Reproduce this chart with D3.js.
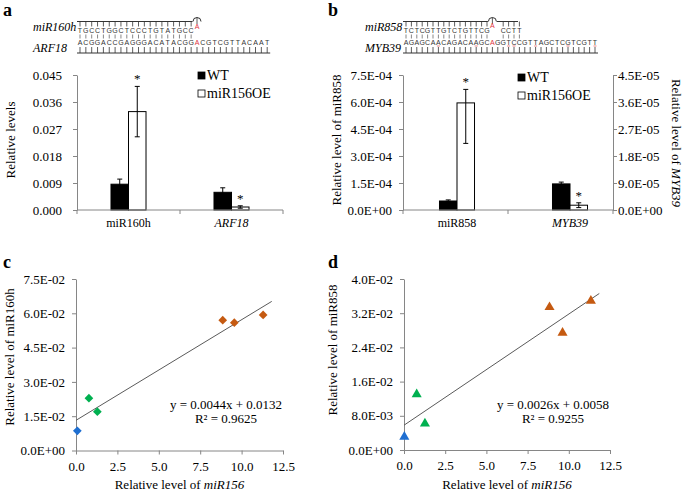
<!DOCTYPE html>
<head>
  <meta charset="utf-8">
  <script src="https://d3js.org/d3.v7.min.js"></script>
  <style>
    body { margin: 0; background: #fff; }
    svg text { font-family: 'Liberation Serif', 'Times New Roman', Times, serif; }
    svg text.seq { font-family: 'Liberation Sans', Arial, sans-serif; }
  </style>
</head>

<body>
  <svg width="685" height="494"></svg>

  <script>
    /*****************************************************
    ** data
    ******************************************************/
    const seriesNames = ['WT', 'miR156OE'];

    // panel a
    const catsA = ['miR160h', 'ARF18'];
    const italicA = [false, true];
    const wtA = [0.0086, 0.0059];
    const wtErrA = [0.0017, 0.0015];
    const oeA = [0.0328, 0.0010];
    const oeErrUpA = [0.0084, 0.0004];
    const oeErrDownA = [0.0084, 0.0004];
    const starsA = [false, true, false, true]; // wt, oe per category
    const ticksA = [0, 0.009, 0.018, 0.027, 0.036, 0.045];

    // panel b (miR858 on left axis, MYB39 on right axis)
    const catsB = ['miR858', 'MYB39'];
    const italicB = [false, true];
    const wtB = [5.0e-5, 8.7e-6];
    const wtErrB = [0.6e-5, 0.6e-6];
    const oeB = [5.95e-4, 1.6e-6];
    const oeErrUpB = [0.75e-4, 0.8e-6];
    const oeErrDownB = [2.25e-4, 0.8e-6];
    const ticksBLeft = [0, 1.5e-4, 3.0e-4, 4.5e-4, 6.0e-4, 7.5e-4];
    const ticksBRight = [0, 9e-6, 1.8e-5, 2.7e-5, 3.6e-5, 4.5e-5];
    const labelsBRight = ['0.0E+00', '9.0E-05', '1.8E-05', '2.7E-05', '3.6E-05', '4.5E-05'];

    // panel c
    const xC = [0.08, 0.78, 1.29, 8.86, 9.56, 11.30];
    const yC = [0.0086, 0.0229, 0.0170, 0.0570, 0.0559, 0.0593];
    const trendC = [0.0044, 0.0132];
    const trendEndC = 11.82;
    const ticksCy = [0, 0.015, 0.03, 0.045, 0.06, 0.075];

    // panel d
    const xD = [0.02, 0.77, 1.27, 8.83, 9.62, 11.34];
    const yD = [0.0031, 0.0130, 0.0062, 0.0334, 0.0274, 0.0349];
    const trendD = [0.0026, 0.0058];
    const trendEndD = 11.85;
    const ticksDy = [0, 0.008, 0.016, 0.024, 0.032, 0.04];

    const groups = ['ctrl', 'low', 'low', 'high', 'high', 'high'];
    const ticksX = [0, 2.5, 5, 7.5, 10, 12.5];

    // sequences
    const seqA1 = 'TGCCTGGCTCCCTGTATGCC';
    const seqA2 = 'ACGGACCGAGGGACATACGGACGTCGTTACAAT';
    const redA2 = [20];
    const seqB1 = 'TCTCGTTGTCTGTTCG  CCTT';
    const seqB2 = 'AGAGCAACAGACAAGCAGGTCCGTTAGCTCGTCGTT';
    const redB2 = [16];
    const dashB = [6, 13, 19, 20, 24, 30, 35];

    /*****************************************************
    ** helpers
    ******************************************************/
    const svg = d3.select('svg');
    const axisGrey = '#868686';
    const groupColor = d3.scaleOrdinal()
      .domain(['ctrl', 'low', 'high'])
      .range(['#1f6fd1', '#00b050', '#c55a11']);

    function sci(v) {
      if (Math.abs(v) < 1e-15) return '0.0E+00';
      let e = Math.floor(Math.log10(Math.abs(v)) + 1e-9);
      let m = v / Math.pow(10, e);
      if (Math.round(m * 10) / 10 >= 10) { m /= 10; e++; }
      return m.toFixed(1) + 'E' + (e < 0 ? '-' : '+') + String(Math.abs(e)).padStart(2, '0');
    }

    function styleAxis(g) {
      g.attr('font-family', null);
      g.select('.domain').attr('stroke', axisGrey);
      g.selectAll('.tick line').attr('stroke', axisGrey);
      g.selectAll('.tick text')
        .attr('fill', '#000')
        .style('font-size', '13px');
    }

    function letter(t, x, y) {
      svg.append('text').attr('x', x).attr('y', y)
        .style('font-size', '18px').style('font-weight', 'bold').text(t);
    }

    function vtitle(parts, x, y, rot) {
      const t = svg.append('text')
        .attr('transform', `translate(${x},${y}) rotate(${rot})`)
        .attr('text-anchor', 'middle')
        .attr('dominant-baseline', 'central')
        .style('font-size', '13px');
      parts.forEach(p => t.append('tspan').style('font-style', p[1] ? 'italic' : 'normal').text(p[0]));
    }

    /*****************************************************
    ** sequence pairing sketches
    ******************************************************/
    function seqSketch(o) {
      const g = svg.append('g');
      const sx = d3.scaleLinear().domain([0, 1]).range([o.x0, o.x0 + o.step]);

      g.append('text').attr('x', o.lx).attr('y', 31).style('font-style', 'italic').style('font-size', '12px').text(o.top);
      g.append('text').attr('x', o.lx).attr('y', 52).style('font-style', 'italic').style('font-size', '12px').text(o.bottom);

      // top backbone
      g.append('line').attr('x1', o.x0 - 3).attr('x2', o.topEnd).attr('y1', 21.5).attr('y2', 21.5)
        .attr('stroke', '#333').attr('stroke-width', 1);
      o.s1.split('').forEach((c, i) => {
        if (c === ' ') return;
        g.append('line').attr('x1', sx(i)).attr('x2', sx(i)).attr('y1', 21.5).attr('y2', 26.5).attr('stroke', '#333').attr('stroke-width', 0.8);
        g.append('text').attr('class', 'seq').attr('x', sx(i)).attr('y', 32.5).attr('text-anchor', 'middle').style('font-size', '7px').attr('fill', '#333').text(c);
        g.append('line').attr('x1', sx(i)).attr('x2', sx(i)).attr('y1', 34.5).attr('y2', 38.5).attr('stroke', '#555').attr('stroke-width', 0.7);
      });
      // bulge
      const bx = sx(o.bulge);
      g.append('rect').attr('x', bx - 4.5).attr('y', 19).attr('width', 9).attr('height', 5).attr('fill', '#fff');
      g.append('path').attr('d', `M${bx - 4},21.5 A4,4 0 0 1 ${bx + 4},21.5`).attr('fill', 'none').attr('stroke', '#333');
      g.append('line').attr('x1', bx).attr('x2', bx).attr('y1', 17.5).attr('y2', 24).attr('stroke', '#333').attr('stroke-width', 0.8);
      g.append('text').attr('class', 'seq').attr('x', bx).attr('y', o.bulgeY).attr('text-anchor', 'middle').style('font-size', '7px').attr('fill', '#e0323c').text('A');

      // bottom strand
      const n2 = o.s2.length;
      g.append('line').attr('x1', o.x0 - 3).attr('x2', sx(n2 - 1) + 3).attr('y1', 53).attr('y2', 53).attr('stroke', '#333');
      o.s2.split('').forEach((c, i) => {
        g.append('text').attr('class', 'seq').attr('x', sx(i)).attr('y', 44.5).attr('text-anchor', 'middle').style('font-size', '7px')
          .attr('fill', o.red.includes(i) ? '#e0323c' : '#333').text(c);
        g.append('line').attr('x1', sx(i)).attr('x2', sx(i)).attr('y1', 47).attr('y2', 53).attr('stroke', '#333').attr('stroke-width', 0.8);
      });
      (o.dash || []).forEach(i => {
        g.append('line').attr('x1', sx(i) - 1.5).attr('x2', sx(i) + 1.5).attr('y1', 46).attr('y2', 46).attr('stroke', '#e88').attr('stroke-width', 1);
      });
    }

    seqSketch({ lx: 33, top: 'miR160h', bottom: 'ARF18', x0: 80, step: 5.85, s1: seqA1, s2: seqA2,
      red: redA2, bulge: 20, bulgeY: 28.5, topEnd: 195 });
    seqSketch({ lx: 365, top: 'miR858', bottom: 'MYB39', x0: 406, step: 5.4, s1: seqB1, s2: seqB2,
      red: redB2, bulge: 16, bulgeY: 28, topEnd: 518, dash: dashB });

    /*****************************************************
    ** bar panels
    ******************************************************/
    function barPanel(o) {
      const g = svg.append('g');
      const x0 = d3.scaleBand().domain(o.cats).range(o.br || o.xr).paddingInner(o.pad).paddingOuter(o.pad / 2);
      const x1 = d3.scaleBand().domain(seriesNames).range([0, x0.bandwidth()]);
      const base = o.yFor(0)(0);

      const rows = [];
      o.cats.forEach((c, i) => {
        rows.push({ c, i, s: 'WT', v: o.wt[i], up: o.wtErr[i], dn: o.wtErr[i], star: o.stars[i * 2] });
        rows.push({ c, i, s: 'miR156OE', v: o.oe[i], up: o.oeUp[i], dn: o.oeDown[i], star: o.stars[i * 2 + 1] });
      });

      g.selectAll('rect.bar').data(rows).enter().append('rect')
        .attr('x', d => x0(d.c) + x1(d.s))
        .attr('width', x1.bandwidth())
        .attr('y', d => o.yFor(d.i)(d.v))
        .attr('height', d => base - o.yFor(d.i)(d.v))
        .attr('fill', d => d.s === 'WT' ? '#000' : '#fff')
        .attr('stroke', '#000').attr('stroke-width', 1);

      const eb = g.selectAll('g.err').data(rows).enter().append('g')
        .attr('transform', d => `translate(${x0(d.c) + x1(d.s) + x1.bandwidth() / 2},0)`);
      eb.append('line').attr('y1', d => o.yFor(d.i)(d.v + d.up)).attr('y2', d => o.yFor(d.i)(d.v - d.dn)).attr('stroke', '#000');
      eb.append('line').attr('x1', -2.5).attr('x2', 2.5).attr('y1', d => o.yFor(d.i)(d.v + d.up)).attr('y2', d => o.yFor(d.i)(d.v + d.up)).attr('stroke', '#000');
      eb.append('line').attr('x1', -2.5).attr('x2', 2.5).attr('y1', d => o.yFor(d.i)(d.v - d.dn)).attr('y2', d => o.yFor(d.i)(d.v - d.dn)).attr('stroke', '#000');
      eb.filter(d => d.star).append('text')
        .attr('y', d => o.yFor(d.i)(d.v + d.up) - 3)
        .attr('text-anchor', 'middle').style('font-size', '13px').text('*');

      // category axis
      g.append('line').attr('x1', o.xr[0]).attr('x2', o.xr[1]).attr('y1', base).attr('y2', base).attr('stroke', axisGrey);
      const step = (o.xr[1] - o.xr[0]) / o.cats.length;
      d3.range(o.cats.length + 1).forEach(k => {
        const xx = o.xr[0] + k * step;
        g.append('line').attr('x1', xx).attr('x2', xx).attr('y1', base).attr('y2', base + 4).attr('stroke', axisGrey);
      });
      g.selectAll('text.cat').data(o.cats).enter().append('text')
        .attr('x', d => x0(d) + x0.bandwidth() / 2).attr('y', base + 17)
        .attr('text-anchor', 'middle').style('font-size', '12px')
        .style('font-style', (d, i) => o.italic[i] ? 'italic' : 'normal')
        .text(d => d);

      // legend
      seriesNames.forEach((s, k) => {
        g.append('rect').attr('x', o.lg[0]).attr('y', o.lg[1] + k * 18).attr('width', 7).attr('height', 7)
          .attr('fill', k === 0 ? '#000' : '#fff').attr('stroke', '#000').attr('stroke-width', 0.8);
        g.append('text').attr('x', o.lg[0] + 9).attr('y', o.lg[1] + 7.5 + k * 18).style('font-size', '14px').text(s);
      });
      return g;
    }

    const yA = d3.scaleLinear().domain([0, 0.045]).range([210, 75]);
    const gA = barPanel({ cats: catsA, italic: italicA, xr: [77, 283], pad: 0.66, yFor: () => yA,
      wt: wtA, wtErr: wtErrA, oe: oeA, oeUp: oeErrUpA, oeDown: oeErrDownA, stars: starsA, lg: [198, 72] });
    gA.append('g').attr('transform', 'translate(77,0)')
      .call(d3.axisLeft(yA).tickValues(ticksA).tickSize(4).tickSizeOuter(0).tickPadding(11).tickFormat(d3.format('.3f')))
      .call(styleAxis);

    const yBL = d3.scaleLinear().domain([0, 7.5e-4]).range([210, 75]);
    const yBR = d3.scaleLinear().domain([0, 4.5e-5]).range([210, 75]);
    const gB = barPanel({ cats: catsB, italic: italicB, xr: [403, 613], br: [400.5, 626.5], pad: 0.69,
      yFor: i => i === 0 ? yBL : yBR,
      wt: wtB, wtErr: wtErrB, oe: oeB, oeUp: oeErrUpB, oeDown: oeErrDownB, stars: starsA, lg: [518, 74] });
    gB.append('g').attr('transform', 'translate(403,0)')
      .call(d3.axisLeft(yBL).tickValues(ticksBLeft).tickSize(4).tickSizeOuter(0).tickPadding(7).tickFormat(sci))
      .call(styleAxis);
    gB.append('g').attr('transform', 'translate(613,0)')
      .call(d3.axisRight(yBR).tickValues(ticksBRight).tickSize(4).tickSizeOuter(0).tickPadding(1).tickFormat((d, i) => labelsBRight[i]))
      .call(styleAxis);

    /*****************************************************
    ** scatter panels
    ******************************************************/
    function scatterPanel(o) {
      const g = svg.append('g');
      const x = d3.scaleLinear().domain([0, 12.5]).range(o.xr);
      const y = d3.scaleLinear().domain([0, o.ymax]).range(o.yr);

      g.append('g').attr('transform', `translate(0,${o.yr[0]})`)
        .call(d3.axisBottom(x).tickValues(ticksX).tickSize(4).tickSizeOuter(0).tickPadding(7).tickFormat(d3.format('.1f')))
        .call(styleAxis);
      g.append('g').attr('transform', `translate(${o.xr[0]},0)`)
        .call(d3.axisLeft(y).tickValues(o.yticks).tickSize(4).tickSizeOuter(0).tickPadding(7).tickFormat(sci))
        .call(styleAxis);

      const line = d3.line().x(d => x(d)).y(d => y(o.trend[0] * d + o.trend[1]));
      g.append('path').attr('d', line([0, o.trendEnd])).attr('stroke', '#5a5a5a').attr('stroke-width', 1).attr('fill', 'none');

      const pts = o.xs.map((v, i) => ({ x: v, y: o.ys[i], grp: groups[i] }));
      g.selectAll('path.pt').data(pts).enter().append('path')
        .attr('d', o.symbol)
        .attr('transform', d => `translate(${x(d.x)},${y(d.y)}) rotate(${o.rot})`)
        .attr('fill', d => groupColor(d.grp));

      g.append('text').attr('x', o.eq[0]).attr('y', o.eq[1]).attr('text-anchor', 'middle').style('font-size', '13px')
        .text(`y = ${o.trend[0].toFixed(4)}x + ${o.trend[1].toFixed(4)}`);
      const r = g.append('text').attr('x', o.eq[0]).attr('y', o.eq[1] + 14).attr('text-anchor', 'middle').style('font-size', '13px');
      r.append('tspan').text('R² = ' + o.r2);

      const xt = g.append('text').attr('x', (o.xr[0] + o.xr[1]) / 2).attr('y', 489).attr('text-anchor', 'middle').style('font-size', '13px');
      xt.append('tspan').text('Relative level of ');
      xt.append('tspan').style('font-style', 'italic').text('miR156');
    }

    scatterPanel({ xr: [76, 283], yr: [450.5, 279], ymax: 0.075, yticks: ticksCy, xs: xC, ys: yC,
      trend: trendC, trendEnd: trendEndC, r2: '0.9625', eq: [226, 409],
      symbol: d3.symbol(d3.symbolSquare, 38)(), rot: 45 });
    scatterPanel({ xr: [404, 610], yr: [450, 279], ymax: 0.04, yticks: ticksDy, xs: xD, ys: yD,
      trend: trendD, trendEnd: trendEndD, r2: '0.9255', eq: [553, 409],
      symbol: d3.symbol(d3.symbolTriangle, 44)(), rot: 0 });

    /*****************************************************
    ** titles and panel letters
    ******************************************************/
    vtitle([['Relative levels', false]], 10, 140, -90);
    vtitle([['Relative level of miR858', false]], 336, 140, -90);
    vtitle([['Relative level of ', false], ['MYB39', true]], 677, 143, 90);
    vtitle([['Relative level of miR160h', false]], 9, 357, -90);
    vtitle([['Relative level of miR858', false]], 332, 350, -90);

    letter('a', 3, 16);
    letter('b', 328, 16);
    letter('c', 3, 268);
    letter('d', 328, 268);
  </script>
</body>
